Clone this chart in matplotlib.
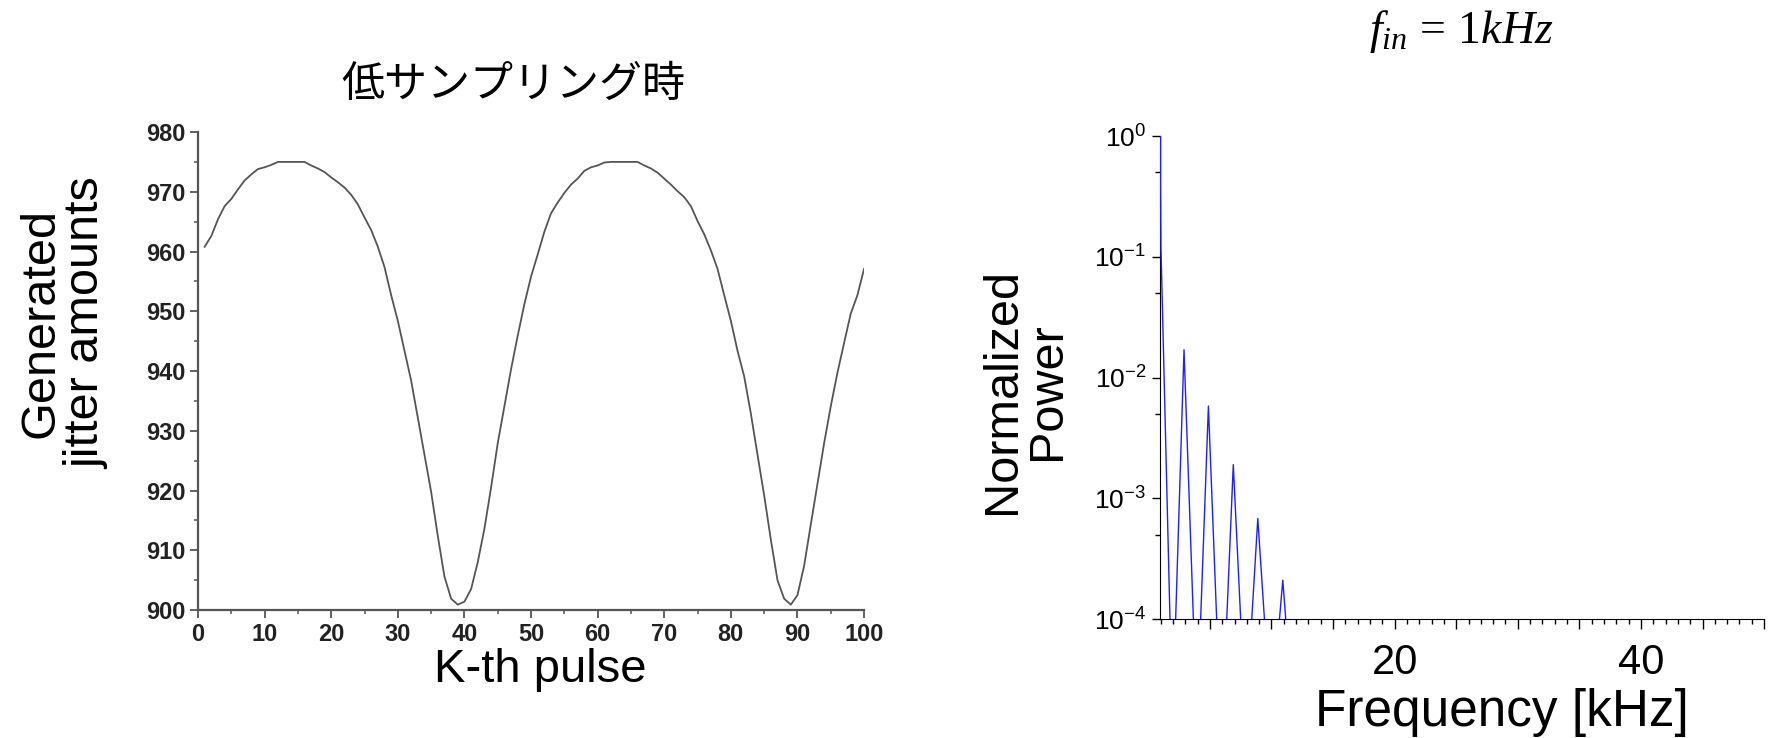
import math
import matplotlib
matplotlib.use("Agg")
import matplotlib.pyplot as plt
from matplotlib.ticker import MultipleLocator, FixedLocator, FuncFormatter, NullFormatter

plt.rcParams['font.family'] = ['Liberation Sans', 'DejaVu Sans']
plt.rcParams['mathtext.fontset'] = 'custom'
plt.rcParams['mathtext.rm'] = 'Liberation Serif'
plt.rcParams['mathtext.it'] = 'Liberation Serif:italic'
plt.rcParams['mathtext.sf'] = 'Liberation Sans'

# left chart: jitter per pulse
pulse_k = list(range(1, 101))
jitter = [
    960.8, 962.6, 965.4, 967.6, 968.8, 970.4, 971.9, 972.9, 973.8, 974.1,
    974.5, 975.0, 975.0, 975.0, 975.0, 975.0, 974.4, 973.9, 973.3, 972.4,
    971.6, 970.7, 969.5, 967.9, 965.7, 963.6, 960.8, 957.4, 952.7, 948.4,
    943.4, 938.4, 932.2, 926.0, 919.8, 912.4, 905.6, 901.9, 900.9, 901.4,
    903.5, 908.0, 913.6, 920.5, 927.9, 934.1, 940.3, 945.9, 951.2, 955.8,
    959.5, 963.3, 966.4, 968.2, 969.8, 971.2, 972.2, 973.5, 974.1, 974.4,
    974.9, 975.0, 975.0, 975.0, 975.0, 975.0, 974.4, 973.9, 973.2, 972.2,
    971.2, 970.1, 969.1, 967.6, 965.1, 962.9, 960.2, 957.1, 952.7, 948.4,
    943.4, 939.1, 932.9, 926.0, 919.2, 911.8, 905.0, 901.9, 900.9, 902.5,
    907.4, 914.3, 921.1, 927.9, 934.1, 939.7, 944.7, 949.6, 952.7, 957.1,
]

# right chart: normalized spectrum (kHz)
freq_khz = [1.0, 1.0, 1.03, 1.76, 1.95, 2.22, 2.9, 3.66, 3.95, 4.25, 4.88, 5.55,
            5.95, 6.37, 6.9, 7.5, 7.95, 8.4, 8.89, 9.43, 10.0, 10.65, 10.92,
            11.16, 11.5]
power = [1.0, 0.39, 0.117, 1e-4, 1e-6, 1e-4, 1.7e-2, 1e-4, 1e-6, 1e-4, 5.8e-3,
         1e-4, 1e-6, 1e-4, 1.9e-3, 1e-4, 1e-6, 1e-4, 6.8e-4, 1e-4, 1e-6, 1e-4,
         2.1e-4, 1e-4, 1e-6]
freq_labels = {20: '20', 40: '40'}

narrow = ['Liberation Sans Narrow', 'Liberation Sans']

fig = plt.figure(figsize=(17.71, 7.38), dpi=100)

# ---- left
ax1 = fig.add_axes([0.1118, 0.1734, 0.3761, 0.6477])
ax1.plot(pulse_k, jitter, color='#555555', lw=1.3)
ax1.set_xlim(0, 100)
ax1.set_ylim(900, 980)
ax1.spines['top'].set_visible(False)
ax1.spines['right'].set_visible(False)
for s in ('left', 'bottom'):
    ax1.spines[s].set_color('#555555')
    ax1.spines[s].set_linewidth(1.6)
ax1.xaxis.set_major_locator(MultipleLocator(10))
ax1.xaxis.set_minor_locator(MultipleLocator(5))
ax1.yaxis.set_major_locator(MultipleLocator(10))
ax1.yaxis.set_minor_locator(MultipleLocator(5))
ax1.tick_params(which='major', length=6, width=1.3, color='#555555', pad=3)
ax1.tick_params(which='minor', length=3, width=1.1, color='#555555')
for lab in ax1.get_xticklabels() + ax1.get_yticklabels():
    lab.set_family(narrow)
    lab.set_fontweight('bold')
    lab.set_fontsize(17)
    lab.set_color('#222222')

fig.text(0.290, 0.885, '低サンプリング時', family=['Noto Sans CJK JP', 'DejaVu Sans'],
         fontsize=31, ha='center', va='center')
fig.text(0.036, 0.562, 'Generated\njitter amounts', fontsize=35, rotation=90,
         ha='center', va='center', linespacing=1.0)
fig.text(0.305, 0.092, 'K-th pulse', fontsize=34, ha='center', va='center')

# ---- right
ax2 = fig.add_axes([0.655, 0.1612, 0.3411, 0.6545])
ax2.plot(freq_khz, power, color='#2020ff', lw=1.0, zorder=3)
ax2.set_yscale('log')
ax2.set_xlim(0.95, 50)
ax2.set_ylim(1e-4, 1)
ax2.spines['top'].set_visible(False)
ax2.spines['right'].set_visible(False)
ax2.xaxis.set_major_locator(MultipleLocator(5))
ax2.xaxis.set_minor_locator(MultipleLocator(1))
ax2.xaxis.set_major_formatter(FuncFormatter(lambda v, p: freq_labels.get(int(round(v)), '')))
ax2.yaxis.set_major_locator(FixedLocator([1e-4, 1e-3, 1e-2, 1e-1, 1]))
ax2.yaxis.set_minor_locator(FixedLocator([5e-4, 5e-3, 5e-2, 5e-1]))
ax2.yaxis.set_minor_formatter(NullFormatter())
ax2.yaxis.set_major_formatter(FuncFormatter(lambda v, p: r'$\mathsf{10^{%d}}$' % round(math.log10(v))))
ax2.tick_params(axis='x', which='major', length=7, width=1.0, pad=10, labelsize=30)
ax2.tick_params(axis='x', which='minor', length=3.5, width=1.0)
ax2.tick_params(axis='y', which='major', length=6, width=1.0, pad=4, labelsize=19)
ax2.tick_params(axis='y', which='minor', length=3.5, width=1.0)

fig.text(0.579, 0.470, 'Normalized\nPower', fontsize=35, rotation=90,
         ha='center', va='center', linespacing=1.0)
fig.text(0.848, 0.035, 'Frequency [kHz]', fontsize=37, ha='center', va='center')
fig.text(0.825, 0.957, r'$f_{in}\,=\,1kHz$', fontsize=33, ha='center', va='center')

fig.savefig('out.png', dpi=100)
